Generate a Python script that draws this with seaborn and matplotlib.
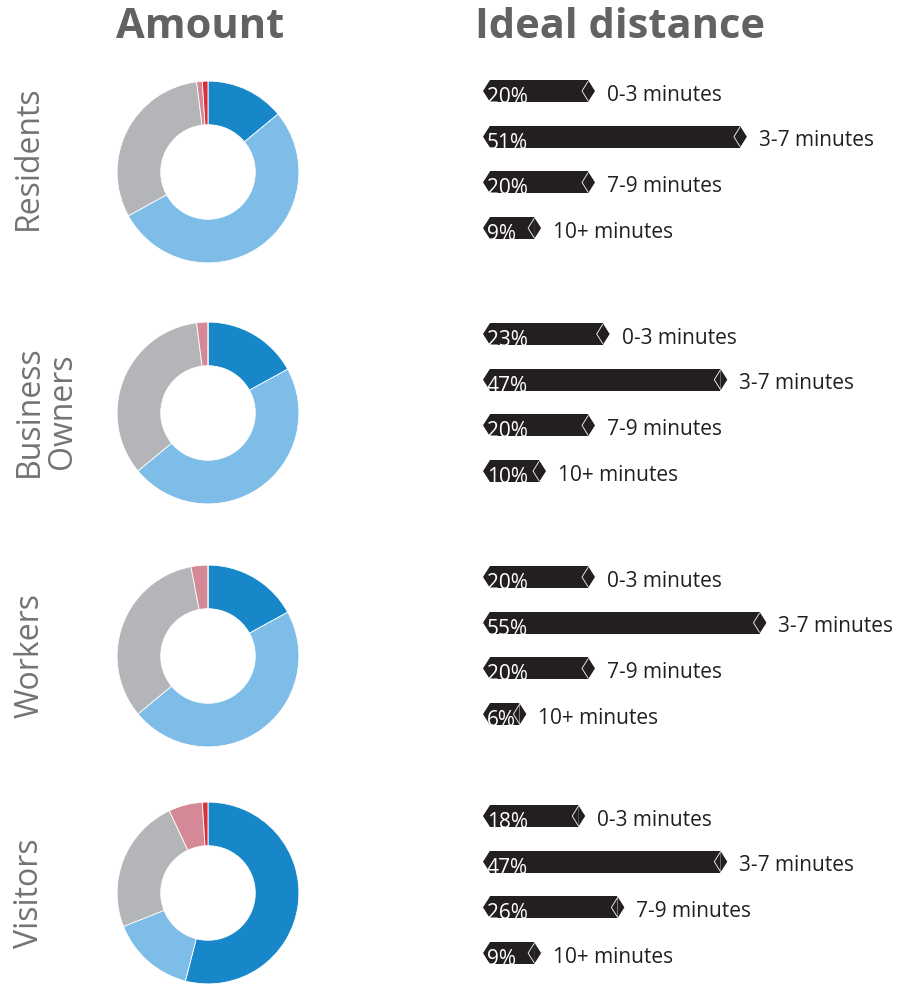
import matplotlib
matplotlib.use("Agg")
import matplotlib.pyplot as plt
from matplotlib.patches import Polygon, Rectangle
from matplotlib.lines import Line2D
import seaborn as sns
import pandas as pd

sns.set_theme(style="white")
plt.rcParams["font.family"] = ["Open Sans", "DejaVu Sans"]

# ---- data -------------------------------------------------------------
groups = ["Residents", "Business\nOwners", "Workers", "Visitors"]

# donut segment shares (%), clockwise from 12 o'clock
residents_amount = [14, 53, 31, 1, 1]
business_amount = [17, 47, 34, 2, 0]
workers_amount = [17, 47, 33, 3, 0]
visitors_amount = [54, 15, 24, 6, 1]
amount_colors = ["#1787c9", "#7dbde8", "#b4b5b8", "#d58896", "#d7313e"]

distance_bins = ["0-3 minutes", "3-7 minutes", "7-9 minutes", "10+ minutes"]
residents_distance = [20, 51, 20, 9]
business_distance = [23, 47, 20, 10]
workers_distance = [20, 55, 20, 6]
visitors_distance = [18, 47, 26, 9]

amounts = [residents_amount, business_amount, workers_amount, visitors_amount]
distances = [residents_distance, business_distance, workers_distance, visitors_distance]

# ---- layout -----------------------------------------------------------
W, H = 900, 984
fig = plt.figure(figsize=(W / 100, H / 100), dpi=100)

title_color = "#626262"
label_color = "#737373"
bar_color = "#231f20"

fig.text(200 / W, 1 - 27 / H, "Amount", ha="center", va="center",
         fontsize=30, fontweight="bold", color=title_color)
fig.text(620 / W, 1 - 27 / H, "Ideal distance", ha="center", va="center",
         fontsize=30, fontweight="bold", color=title_color)

pie_centers = [172, 413, 656, 893]
label_y = [158, 411, 655, 893]
label_x = [28, 46, 30, 30]
bar_tops = [91, 334, 577, 816]
row_step = 45.7
px_per_unit = 4.9
zero_px = 490
tip = 7 / px_per_unit          # depth of the pointed ends, in data units
notch = 6 / px_per_unit        # depth of the white chevron
bar_w = 22 / row_step

for i, grp in enumerate(groups):
    yc = pie_centers[i]
    # group label, rotated
    fig.text(label_x[i] / W, 1 - label_y[i] / H, grp, rotation=90, ha="center",
             va="center", fontsize=23, color=label_color, linespacing=1.0,
             multialignment="center")

    # donut
    pax = fig.add_axes([(208 - 100) / W, 1 - (yc + 100) / H, 200 / W, 200 / H])
    pax.pie(amounts[i], colors=amount_colors, startangle=90, counterclock=False,
            radius=1, wedgeprops=dict(width=0.48, edgecolor="white", linewidth=0.6))
    pax.set_xlim(-1.1, 1.1)
    pax.set_ylim(-1.1, 1.1)
    pax.set_aspect("equal")
    pax.axis("off")

    # distance bars
    top = bar_tops[i] - row_step / 2
    ax_h = 4 * row_step
    left_px = 470
    bax = fig.add_axes([left_px / W, 1 - (top + ax_h) / H, (W - left_px) / W, ax_h / H])
    df = pd.DataFrame({"bin": distance_bins, "pct": distances[i]})
    sns.barplot(data=df, x="pct", y="bin", orient="h", color=bar_color,
                saturation=1, width=bar_w, ax=bax)
    bax.set_xlim((left_px - zero_px) / px_per_unit, (W - zero_px) / px_per_unit)
    bax.set_ylim(3.5, -0.5)
    bax.axis("off")

    for j, (patch, v, name) in enumerate(zip(bax.patches, distances[i], distance_bins)):
        patch.set_linewidth(0)
        y0 = j - bar_w / 2
        y1 = j + bar_w / 2
        # pointed left end
        bax.add_patch(Polygon([(0, y0), (-tip, j), (0, y1)], closed=True,
                              facecolor=bar_color, edgecolor="none"))
        # pointed right end with a white chevron
        bax.add_patch(Polygon([(v, y0), (v + tip, j), (v, y1)], closed=True,
                              facecolor=bar_color, edgecolor="none"))
        bax.add_line(Line2D([v, v - notch, v], [y0 + 0.03, j, y1 - 0.03],
                            color="white", linewidth=0.6))
        # value inside the bar, clipped to the bar height
        clip = Rectangle((-tip, y0), v + 2 * tip, bar_w, transform=bax.transData)
        t = bax.text(-0.7, y1 + 0.02, f"{v}%", ha="left", va="baseline",
                     fontsize=15, color="white")
        t.set_clip_path(clip)
        # bin name after the bar
        bax.text(v + tip + 12 / px_per_unit, j + 0.09, name, ha="left",
                 va="center", fontsize=15, color=bar_color, clip_on=False)

fig.savefig("out.png", dpi=100, facecolor="white")
